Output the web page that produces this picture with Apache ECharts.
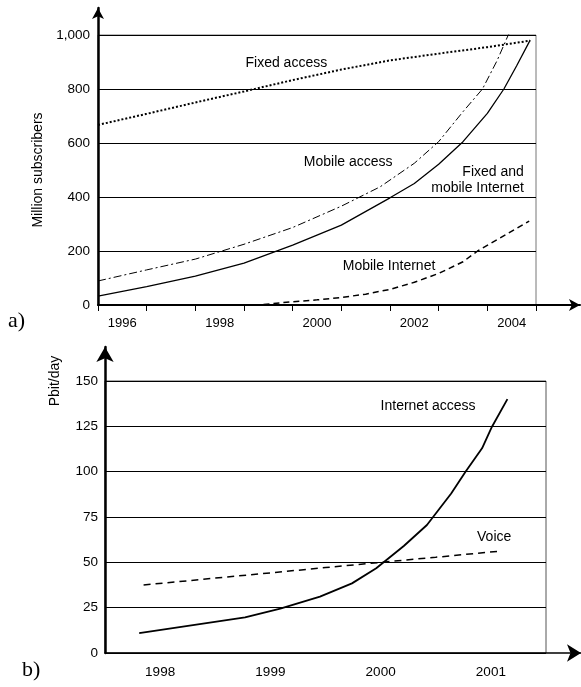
<!DOCTYPE html>
<html><head><meta charset="utf-8">
<script src="https://cdn.jsdelivr.net/npm/echarts@6/dist/echarts.min.js"></script>
<style>html,body{margin:0;padding:0;background:#fff}#c{width:581px;height:687px}</style>
</head><body><div id="c"></div>
<script>
// ---- Chart a) data (x = fractional year, y = million subscribers)
const topYears = ['1996','1997','1998','1999','2000','2001','2002','2003','2004'];
const topYTicks = [0, 200, 400, 600, 800, 1000];
const fixedAccess = [[1996,667],[1997,708],[1998,750],[1999,791],[2000,833],[2001,872],[2002,906],[2003,931],[2004,955],[2004.88,979]];
const mobileAccess = [[1996,89],[1997,130],[1998,170],[1999,225],[2000,287],[2001,366],[2001.8,438],[2002.5,525],[2003,605],[2003.5,716],[2003.9,800],[2004.2,905],[2004.43,1000],[2004.57,1028]];
const fixedMobileInternet = [[1996,33],[1997,68],[1998,107],[1999,155],[2000,222],[2001,296],[2002,397],[2002.5,450],[2003,521],[2003.5,605],[2004,710],[2004.34,800],[2004.6,885],[2004.88,981]];
const mobileInternet = [[1999.4,2],[2000,12],[2000.5,19],[2001,28],[2001.5,40],[2002,58],[2002.5,84],[2003,117],[2003.5,160],[2003.8,200],[2004.3,252],[2004.86,311]];
const topLabels = [
  {text:'Fixed access', x:1999.87, y:896, align:'center'},
  {text:'Mobile access', x:2001.14, y:530, align:'center'},
  {text:'Fixed and\nmobile Internet', x:2004.75, y:463, align:'right'},
  {text:'Mobile Internet', x:2001.98, y:144, align:'center'}
];
// ---- Chart b) data (x = fractional year, y = Pbit/day)
const botYears = ['1998','1999','2000','2001'];
const internetAccess = [[1997.81,10.9],[1998.77,19.7],[1999.09,24.5],[1999.45,31.1],[1999.74,38.4],[1999.96,46.7],[2000.21,59],[2000.42,70.6],[2000.64,88],[2000.77,100],[2000.92,112.9],[2001.01,124.8],[2001.15,140]];
const voice = [[1997.85,37.5],[1998.5,41.3],[1999,44.2],[1999.5,47.1],[2000,50],[2000.5,52.8],[2001.1,56.3]];
const botLabels = [
  {text:'Internet access', x:2000.43, y:136, align:'center'},
  {text:'Voice', x:2001.03, y:64, align:'center'}
];

const FONT = '"Liberation Sans", Arial, sans-serif';
const chart = echarts.init(document.getElementById('c'), null, {renderer:'canvas'});

function annot(list){
  return {
    symbol:'circle', symbolSize:2, silent:true,
    itemStyle:{color:'rgba(0,0,0,0)'},
    label:{show:true, position:'inside', color:'#000', fontFamily:FONT, fontSize:14, lineHeight:16},
    data: list.map(a => ({coord:[a.x, a.y], name:a.text,
      label:{formatter:a.text, align:a.align}}))
  };
}
const hidden = {show:false};
function arrowAxis(w, size){
  return {show:true, symbol:['none','arrow'], symbolSize:size, lineStyle:{color:'#000', width:w}};
}

chart.setOption({
  animation:false,
  grid:[
    {left:98, top:35, width:438, height:270, show:true, borderColor:'#777', borderWidth:1, backgroundColor:'transparent'},
    {left:98, top:8, width:482, height:297},
    {left:105, top:381, width:441, height:272, show:true, borderColor:'#555', borderWidth:1, backgroundColor:'transparent'},
    {left:105, top:347, width:476, height:306}
  ],
  xAxis:[
    {type:'value', gridIndex:0, min:1996, max:2005, show:false},
    {type:'category', gridIndex:0, data:topYears, boundaryGap:true, position:'bottom',
      axisLine:hidden, axisTick:{show:true, interval:0, length:6, lineStyle:{color:'#000'}},
      axisLabel:{interval:1, margin:12, color:'#000', fontFamily:FONT, fontSize:13}, splitLine:hidden},
    {type:'value', gridIndex:1, min:0, max:1, axisLine:arrowAxis(2,[9,11]), axisTick:hidden, axisLabel:hidden, splitLine:hidden},
    {type:'value', gridIndex:2, min:1997.5, max:2001.5, show:false},
    {type:'category', gridIndex:2, data:botYears, boundaryGap:true, position:'bottom',
      axisLine:hidden, axisTick:hidden,
      axisLabel:{interval:0, margin:12, color:'#000', fontFamily:FONT, fontSize:13.5}, splitLine:hidden},
    {type:'value', gridIndex:3, min:0, max:1, axisLine:arrowAxis(1.5,[13,14]), axisTick:hidden, axisLabel:hidden, splitLine:hidden}
  ],
  yAxis:[
    {type:'value', gridIndex:0, min:topYTicks[0], max:topYTicks[topYTicks.length-1], interval:200,
      axisLine:hidden, axisTick:hidden,
      axisLabel:{margin:8, color:'#000', fontFamily:FONT, fontSize:13.5,
        formatter:v => v.toLocaleString('en-US')},
      splitLine:{show:true, lineStyle:{color:'#000', width:1}},
      name:'Million subscribers', nameLocation:'middle', nameGap:45, nameRotate:90,
      nameTextStyle:{color:'#000', fontFamily:FONT, fontSize:14}},
    {type:'value', gridIndex:1, min:0, max:1, axisLine:arrowAxis(2.5,[9,11]), axisTick:hidden, axisLabel:hidden, splitLine:hidden},
    {type:'value', gridIndex:2, min:0, max:150, interval:25,
      axisLine:hidden, axisTick:hidden,
      axisLabel:{margin:7, color:'#000', fontFamily:FONT, fontSize:13.5},
      splitLine:{show:true, lineStyle:{color:'#000', width:1}}},
    {type:'value', gridIndex:3, min:0, max:1, axisLine:arrowAxis(2.5,[13,15]), axisTick:hidden, axisLabel:hidden, splitLine:hidden}
  ],
  graphic:[
    {type:'text', left:8, top:310, style:{text:'a)', font:'22px "Liberation Serif", "Times New Roman", serif', fill:'#000'}},
    {type:'text', left:22, top:659, style:{text:'b)', font:'22px "Liberation Serif", "Times New Roman", serif', fill:'#000'}},
    {type:'text', x:55, y:381, rotation:Math.PI/2, style:{text:'Pbit/day', font:'14px '+FONT, fill:'#000', align:'center', verticalAlign:'middle'}}
  ],
  series:[
    {type:'line', name:'Fixed access', xAxisIndex:0, yAxisIndex:0, data:fixedAccess, showSymbol:false,
      lineStyle:{color:'#000', width:2, type:[2,2]}, markPoint:annot(topLabels), z:3},
    {type:'line', name:'Mobile access', xAxisIndex:0, yAxisIndex:0, data:mobileAccess, showSymbol:false,
      lineStyle:{color:'#000', width:1, type:[8,3,2,3]}, z:3},
    {type:'line', name:'Fixed and mobile Internet', xAxisIndex:0, yAxisIndex:0, data:fixedMobileInternet, showSymbol:false,
      lineStyle:{color:'#000', width:1.3, type:'solid'}, z:3},
    {type:'line', name:'Mobile Internet', xAxisIndex:0, yAxisIndex:0, data:mobileInternet, showSymbol:false,
      lineStyle:{color:'#000', width:1.5, type:[6,4]}, z:3},
    {type:'line', name:'Internet access', xAxisIndex:3, yAxisIndex:2, data:internetAccess, showSymbol:false,
      lineStyle:{color:'#000', width:1.8, type:'solid'}, markPoint:annot(botLabels), z:3},
    {type:'line', name:'Voice', xAxisIndex:3, yAxisIndex:2, data:voice, showSymbol:false,
      lineStyle:{color:'#000', width:1.5, type:[7,5]}, z:3}
  ]
});
</script></body></html>
